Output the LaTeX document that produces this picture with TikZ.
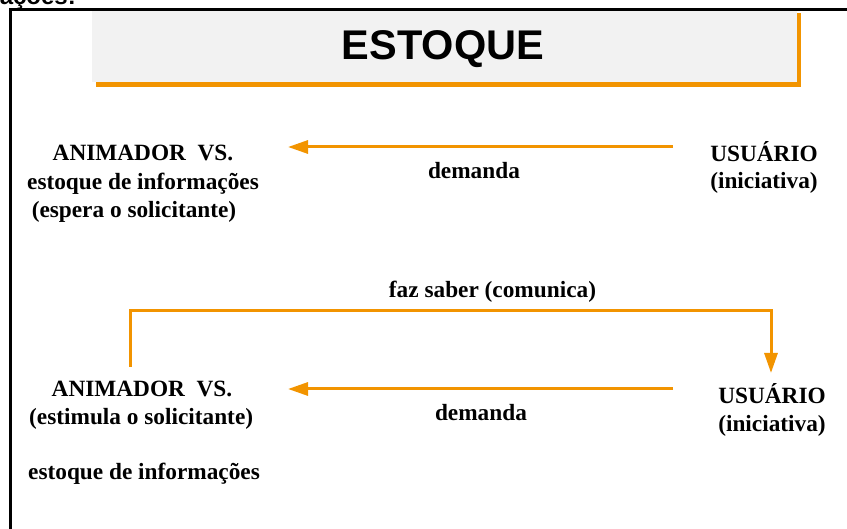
\documentclass[tikz,border=0pt]{standalone}
\usepackage{fontspec}
\setmainfont{Liberation Serif}
\newfontfamily\arialfont{Liberation Sans}
\usetikzlibrary{arrows.meta}
\definecolor{orng}{HTML}{F29400}
\definecolor{boxgray}{HTML}{F2F2F2}
\tikzset{
  lbl/.style={font=\fontsize{23.3}{28}\selectfont\bfseries, inner sep=0pt, anchor=base},
  lbll/.style={lbl, anchor=base west},
  flow/.style={draw=orng, line width=3pt, -{Triangle[length=20pt,width=13pt]}},
}
\begin{document}
\begin{tikzpicture}[x=1pt,y=-1pt]
\useasboundingbox (0,0) rectangle (847,529);
% clipped text fragment at the top
\node[font=\arialfont\fontsize{24}{28}\selectfont\bfseries, anchor=base east, inner sep=0pt] (frag) at (76,5) {ações:};
% frame
\draw[line width=2.6pt] (10.5,545) -- (10.5,9.5) -- (860,9.5);
% title
\fill[orng] (96,13) rectangle (801,87);
\fill[boxgray] (92,10.8) rectangle (797,82);
\node[font=\arialfont\fontsize{41.5}{44}\selectfont\bfseries, inner sep=0pt, anchor=base] (title) at (443,60) {ESTOQUE};
% upper row
\node[lbl] (anim1a) at (143,161) {ANIMADOR\ \ VS.};
\node[lbl] (anim1b) at (143,190) {estoque de informações};
\node[lbl] (anim1c) at (134,218) {(espera o solicitante)};
\node[lbl] (usu1a) at (764,162) {USUÁRIO};
\node[lbl] (usu1b) at (764,189) {(iniciativa)};
\node[lbl] (dem1) at (474,179) {demanda};
\coordinate (a1s) at (673,147);
\coordinate (a1e) at (288,147);
\draw[flow] (a1s) -- (a1e);
% lower row
\node[lbl] (faz) at (492.5,298) {faz saber (comunica)};
\node[lbl] (anim2) at (142,397) {ANIMADOR\ \ VS.};
\node[lbll] (estim) at (29,425) {(estimula o solicitante)};
\node[lbll] (estq) at (28,479) {estoque de informações};
\node[lbl] (usu2a) at (772,404) {USUÁRIO};
\node[lbl] (usu2b) at (772,432) {(iniciativa)};
\node[lbl] (dem2) at (481,421) {demanda};
\coordinate (a2s) at (673,389);
\coordinate (a2e) at (288,389);
\draw[flow] (a2s) -- (a2e);
\coordinate (c1) at (130,367);
\coordinate (c2) at (771,373);
\draw[flow] (c1) -- (130,311) -- (771,311) -- (c2);
\end{tikzpicture}
\end{document}
